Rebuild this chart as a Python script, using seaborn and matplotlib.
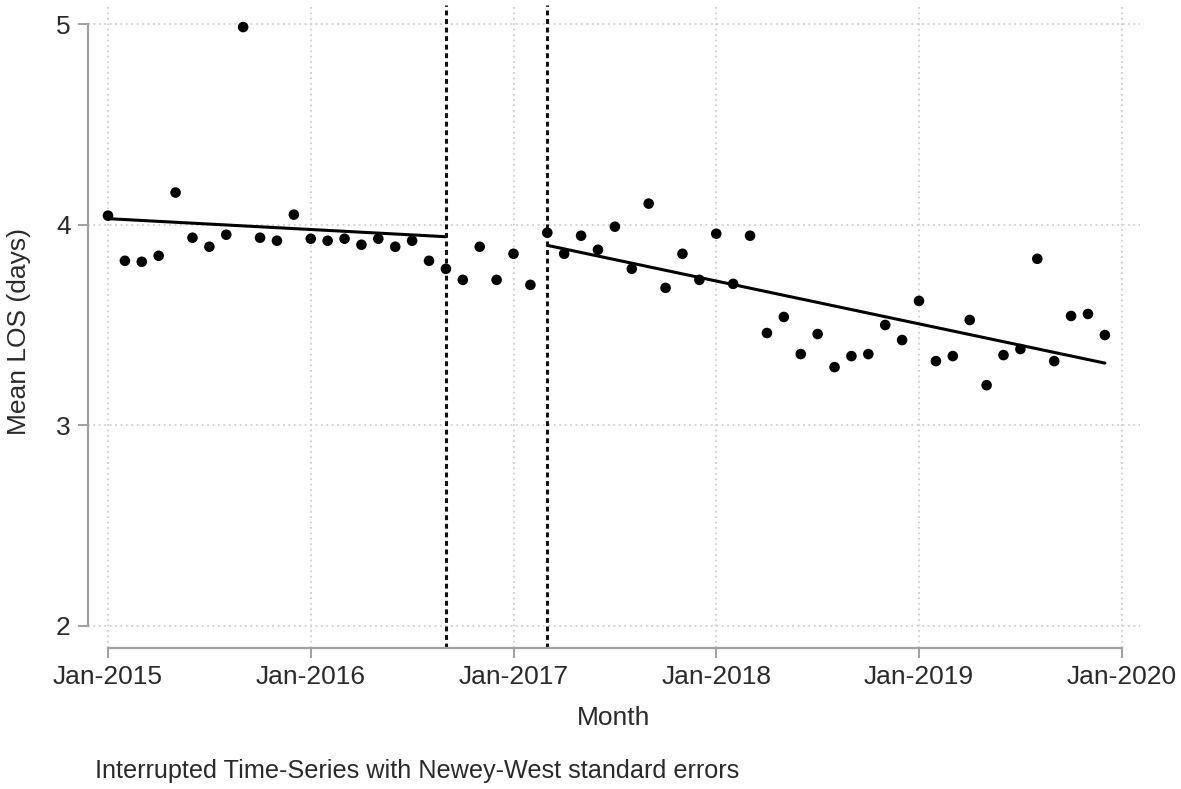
import numpy as np
import pandas as pd
import matplotlib
matplotlib.use('Agg')
import matplotlib.pyplot as plt
import seaborn as sns

# monthly mean length of stay, Jan-2015 .. Dec-2019 (month index 0..59)
month_idx = list(range(60))
mean_los = [
    4.045, 3.82, 3.815, 3.845, 4.16, 3.935, 3.89, 3.95, 4.985, 3.935, 3.92, 4.05,
    3.93, 3.92, 3.93, 3.90, 3.93, 3.89, 3.92, 3.82, 3.78, 3.725, 3.89, 3.725,
    3.855, 3.70, 3.96, 3.855, 3.945, 3.875, 3.99, 3.78, 4.105, 3.685, 3.855, 3.725,
    3.955, 3.705, 3.945, 3.46, 3.54, 3.355, 3.455, 3.29, 3.345, 3.355, 3.50, 3.425,
    3.62, 3.32, 3.345, 3.525, 3.20, 3.35, 3.38, 3.83, 3.32, 3.545, 3.555, 3.45,
]

# fitted segments (pre and post intervention)
pre_months = [0, 20]
pre_fit = [4.03, 3.94]
post_months = [26, 59]
post_fit = [3.897, 3.31]

# interruption points (Sep-2016, Mar-2017)
breaks = [20, 26]

tick_pos = [0, 12, 24, 36, 48, 60]
tick_labels = ['Jan-2015', 'Jan-2016', 'Jan-2017', 'Jan-2018', 'Jan-2019', 'Jan-2020']
y_ticks = [2, 3, 4, 5]

df = pd.DataFrame({'month': month_idx, 'los': mean_los})
pre = pd.DataFrame({'month': pre_months, 'fit': pre_fit})
post = pd.DataFrame({'month': post_months, 'fit': post_fit})

sns.set_theme(style='white')
plt.rcParams['font.family'] = ['Liberation Sans', 'DejaVu Sans']

text_col = '#2a2a2a'
axis_col = '#a0a0a0'

fig = plt.figure(figsize=(11.81, 7.89), dpi=100)
ax = fig.add_axes([0.0745, 0.1787, 0.8908, 0.8149])

# grid
for y in y_ticks:
    ax.axhline(y, color='#cfcfcf', lw=1.3, ls=(0, (1, 2)), zorder=0)
for x in tick_pos:
    ax.axvline(x, color='#cfcfcf', lw=1.3, ls=(0, (1, 2)), zorder=0)

sns.scatterplot(data=df, x='month', y='los', color='black', s=58,
                edgecolor='none', ax=ax, zorder=3, clip_on=False)
sns.lineplot(data=pre, x='month', y='fit', color='black', lw=2.2, ax=ax, zorder=2)
sns.lineplot(data=post, x='month', y='fit', color='black', lw=2.2, ax=ax, zorder=2)

for b in breaks:
    ax.axvline(b, color='#111111', lw=2.2, ls=(0, (1.6, 1.2)), zorder=2)

ax.set_xlim(-1.184, 61.08)
ax.set_ylim(1.890, 5.0947)

ax.set_xticks(tick_pos)
ax.set_xticklabels(tick_labels)
ax.set_yticks(y_ticks)
ax.set_yticklabels([str(v) for v in y_ticks])

for side in ['top', 'right']:
    ax.spines[side].set_visible(False)
ax.spines['left'].set_bounds(2, 5)
ax.spines['bottom'].set_bounds(0, 60)
for side in ['left', 'bottom']:
    ax.spines[side].set_color(axis_col)
    ax.spines[side].set_linewidth(1.6)

ax.tick_params(axis='both', which='major', length=7.5, width=1.4, color=axis_col,
               labelsize=19, labelcolor=text_col, direction='out', pad=5,
               bottom=True, left=True)
ax.set_xlabel('')
ax.set_ylabel('')

fig.text(614 / 1181, 1 - 718 / 789, 'Month', fontsize=19, color=text_col,
         ha='center', va='center')
fig.text(19 / 1181, 1 - 331 / 789, 'Mean LOS (days)', fontsize=19, color=text_col,
         ha='center', va='center', rotation=90)
fig.text(95 / 1181, 1 - 771 / 789, 'Interrupted Time-Series with Newey-West standard errors',
         fontsize=18.2, color=text_col, ha='left', va='center')

fig.savefig('out.png', dpi=100, facecolor='white')
